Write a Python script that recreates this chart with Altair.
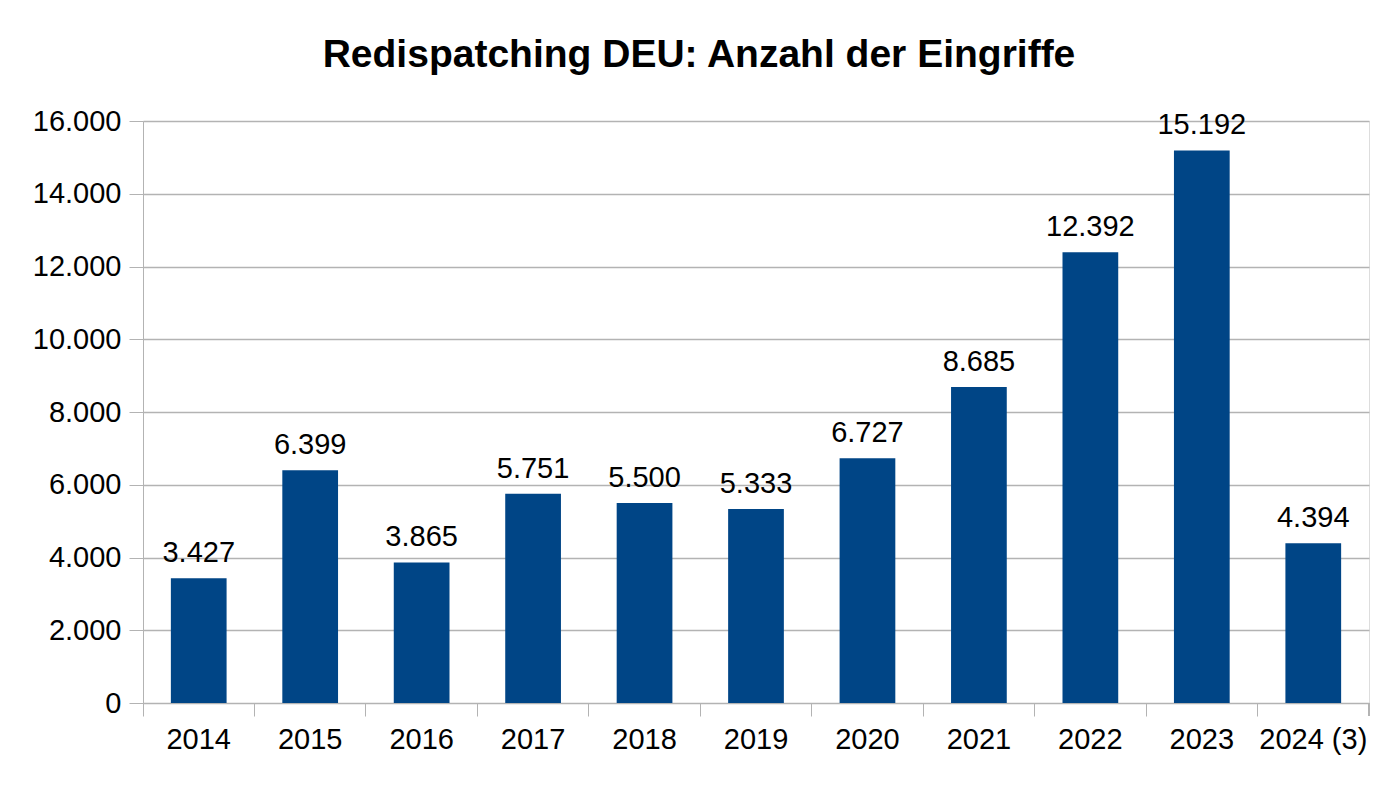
import altair as alt
import pandas as pd

years = ["2014", "2015", "2016", "2017", "2018", "2019", "2020", "2021", "2022", "2023", "2024 (3)"]
values = [3427, 6399, 3865, 5751, 5500, 5333, 6727, 8685, 12392, 15192, 4394]
y_ticks = [0, 2000, 4000, 6000, 8000, 10000, 12000, 14000, 16000]
title_text = "Redispatching DEU: Anzahl der Eingriffe"

df = pd.DataFrame({"year": years, "value": values})

FONT = "Liberation Sans"
GRID = "#b3b3b3"

base = alt.Chart(df).transform_calculate(
    label="replace(format(datum.value, ','), ',', '.')"
)

x_enc = alt.X(
    "year:N",
    sort=years,
    title=None,
    scale=alt.Scale(paddingInner=0, paddingOuter=0),
    axis=alt.Axis(
        labelAngle=0,
        labelFont=FONT,
        labelFontSize=29,
        labelColor="#000000",
        labelPadding=9,
        tickSize=13,
        tickColor=GRID,
        domainColor=GRID,
        bandPosition=0,
        grid=False,
    ),
)
y_enc = alt.Y(
    "value:Q",
    title=None,
    scale=alt.Scale(domain=[0, 16000], nice=False),
    axis=alt.Axis(
        values=y_ticks,
        labelExpr="replace(format(datum.value, ','), ',', '.')",
        labelFont=FONT,
        labelFontSize=29,
        labelColor="#000000",
        labelPadding=8,
        tickSize=14,
        tickColor=GRID,
        domainColor=GRID,
        gridColor=GRID,
        gridWidth=1.5,
    ),
)

bars = base.mark_bar(color="#004586", width=alt.RelativeBandSize(0.5)).encode(x=x_enc, y=y_enc)

labels = base.mark_text(
    font=FONT, fontSize=29, color="#000000", baseline="alphabetic", dy=-16
).encode(x=alt.X("year:N", sort=years), y="value:Q", text="label:N")

end_tick = alt.Chart(df).mark_rule(color=GRID).encode(
    x=alt.value(1226), y=alt.value(582), y2=alt.value(595)
)

title_df = pd.DataFrame({"t": [title_text]})
title = alt.Chart(title_df).mark_text(
    font=FONT, fontSize=39, fontWeight="bold", color="#000000",
    baseline="alphabetic", align="center"
).encode(x=alt.value(556), y=alt.value(-54), text="t:N")

chart = (
    alt.layer(bars, labels, end_tick, title)
    .properties(
        width=1226,
        height=582,
        padding={"left": 135, "top": 113, "right": 23, "bottom": 88},
        autosize=alt.AutoSizeParams(type="none"),
    )
    .configure_view(stroke=GRID, strokeWidth=1.5)
    .configure(background="white")
)

chart.save("out.html", embed_options={"renderer": "svg", "actions": False})
